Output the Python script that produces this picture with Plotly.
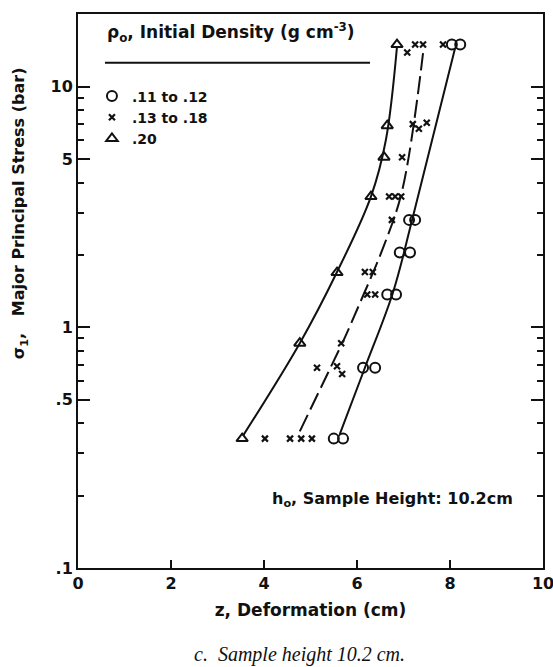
import plotly.graph_objects as go

# Measured deformation z (cm) against major principal stress sigma_1 (bar)
# Initial density .11 to .12 g/cm3 (open circles)
z_low = [8.04, 8.22, 7.12, 7.25, 6.92, 7.14, 6.65, 6.84, 6.13, 6.39, 5.50, 5.70]
s_low = [15.0, 15.0, 2.8, 2.8, 2.05, 2.05, 1.37, 1.37, 0.68, 0.68, 0.345, 0.345]

# Initial density .13 to .18 g/cm3 (crosses)
z_mid = [7.08, 7.25, 7.42, 7.85, 7.20, 7.33, 7.50, 6.97, 6.69, 6.82, 6.95, 6.75,
         6.17, 6.34, 6.22, 6.39, 5.66, 5.14, 5.57, 5.68, 4.02, 4.56, 4.80, 5.03]
s_mid = [13.9, 15.0, 15.0, 15.0, 7.0, 6.7, 7.1, 5.1, 3.5, 3.5, 3.5, 2.8,
         1.7, 1.7, 1.37, 1.37, 0.86, 0.68, 0.69, 0.64, 0.345, 0.345, 0.345, 0.345]

# Initial density .20 g/cm3 (triangles)
z_high = [6.86, 6.65, 6.58, 6.30, 5.57, 4.77, 3.53]
s_high = [15.0, 6.9, 5.1, 3.5, 1.69, 0.86, 0.345]

# Hand-fitted trend curves
fit_low_z = [5.63, 6.17, 6.77, 7.20, 8.11]
fit_low_s = [0.36, 0.68, 1.39, 2.87, 14.5]
fit_mid_z = [4.77, 5.38, 5.74, 6.06, 6.56, 6.97, 7.42]
fit_mid_s = [0.37, 0.65, 0.91, 1.26, 2.14, 3.7, 13.8]
fit_high_z = [3.55, 4.77, 5.57, 6.30, 6.62, 6.86]
fit_high_s = [0.355, 0.86, 1.7, 3.5, 6.0, 14.7]

x_ticks = [0, 2, 4, 6, 8, 10]
y_ticks = [0.1, 0.5, 1, 5, 10]
y_tick_text = [".1", ".5", "1", "5", "10"]
y_minor = [0.2, 0.3, 0.4, 0.6, 0.7, 0.8, 0.9, 2, 3, 4, 6, 7, 8, 9]

FONT = "DejaVu Sans"
BLACK = "#111111"


def bold(size):
    return dict(family=FONT, size=size, color=BLACK, weight="bold")


fig = go.Figure()

line_style = dict(color=BLACK, width=2)
fig.add_trace(go.Scatter(x=fit_high_z, y=fit_high_s, mode="lines", line=dict(shape="spline", **line_style),
                         showlegend=False, hoverinfo="skip"))
fig.add_trace(go.Scatter(x=fit_mid_z, y=fit_mid_s, mode="lines",
                         line=dict(shape="spline", dash="18px,6px", **line_style),
                         showlegend=False, hoverinfo="skip"))
fig.add_trace(go.Scatter(x=fit_low_z, y=fit_low_s, mode="lines", line=dict(shape="spline", **line_style),
                         showlegend=False, hoverinfo="skip"))

fig.add_trace(go.Scatter(x=z_low, y=s_low, mode="markers", name=".11 to .12",
                         marker=dict(symbol="circle-open", size=10, color=BLACK, line=dict(width=2))))
fig.add_trace(go.Scatter(x=z_mid, y=s_mid, mode="markers", name=".13 to .18",
                         marker=dict(symbol="x-thin-open", size=6, color=BLACK, line=dict(width=2.2))))
fig.add_trace(go.Scatter(x=z_high, y=s_high, mode="markers", name=".20",
                         marker=dict(symbol="triangle-up-open", size=10, color=BLACK, line=dict(width=2))))

fig.update_xaxes(
    range=[0, 10], tickvals=x_ticks, ticktext=[str(v) for v in x_ticks],
    ticks="inside", ticklen=8, tickwidth=2, tickcolor=BLACK,
    showline=True, linewidth=2, linecolor=BLACK, mirror=True,
    showgrid=False, zeroline=False, automargin=False, ticklabeloverflow="allow",
    tickfont=bold(16),
    title=dict(text="z, Deformation (cm)", font=bold(17), standoff=12),
)
fig.update_yaxes(
    type="log", range=[-1, 1.303], tickvals=y_ticks, ticktext=y_tick_text,
    ticks="inside", ticklen=12, tickwidth=2, tickcolor=BLACK,
    minor=dict(tickvals=y_minor, ticks="inside", ticklen=6, tickwidth=2, tickcolor=BLACK),
    showline=True, linewidth=2, linecolor=BLACK, mirror="ticks",
    showgrid=False, zeroline=False, automargin=False, ticklabeloverflow="allow",
    tickfont=bold(16),
)

fig.add_annotation(text="\u03c1<sub>o</sub>, Initial Density (g cm<sup>-3</sup>)",
                   xref="paper", yref="paper", x=0.058, y=0.966, xanchor="left", yanchor="middle",
                   showarrow=False, font=bold(17))
fig.add_shape(type="line", xref="paper", yref="paper", x0=0.058, x1=0.628, y0=0.912, y1=0.912,
              line=dict(color=BLACK, width=2))
fig.add_annotation(text="h<sub>o</sub>, Sample Height: 10.2cm",
                   xref="paper", yref="paper", x=0.413, y=0.123, xanchor="left", yanchor="middle",
                   showarrow=False, font=bold(16))
fig.add_annotation(text="\u03c3<sub>1</sub>,   Major Principal Stress (bar)", textangle=-90,
                   xref="paper", yref="paper", x=-0.125, y=0.64, xanchor="center", yanchor="middle",
                   showarrow=False, font=bold(16))
fig.add_annotation(text="<i>c.  Sample height 10.2 cm.</i>",
                   xref="paper", yref="paper", x=0.477, y=-0.157, xanchor="center", yanchor="middle",
                   showarrow=False, font=dict(family="Liberation Serif", size=20, color=BLACK))

fig.update_layout(
    width=553, height=667,
    margin=dict(l=78, r=10, t=14, b=99),
    paper_bgcolor="white", plot_bgcolor="white",
    showlegend=True,
    legend=dict(x=0.03, y=0.88, xanchor="left", yanchor="top", bgcolor="rgba(0,0,0,0)",
                font=bold(14), tracegroupgap=0, itemwidth=30),
)

fig.write_html("out.html")
